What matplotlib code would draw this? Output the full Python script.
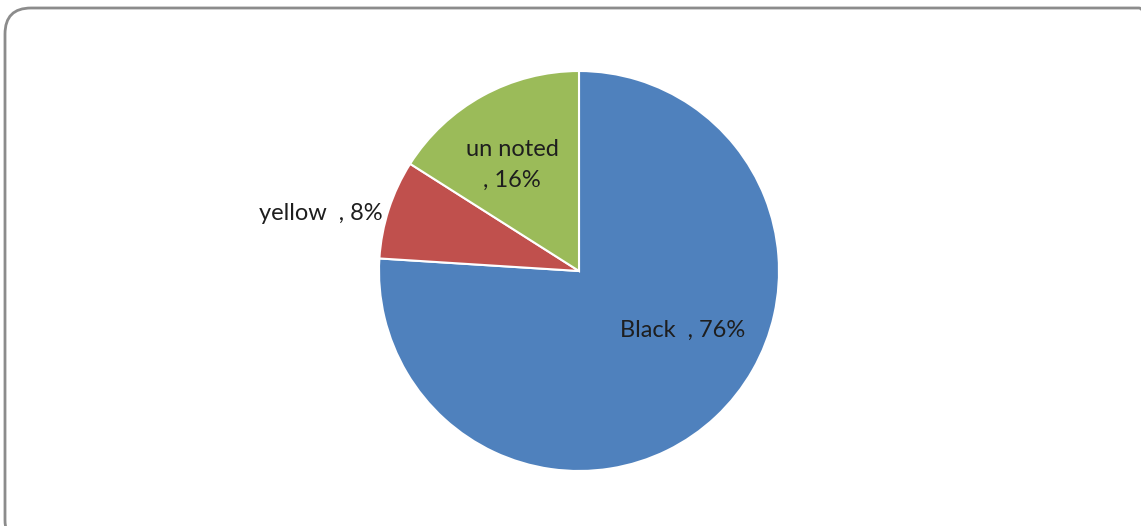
import matplotlib
matplotlib.use("Agg")
import matplotlib.pyplot as plt
from matplotlib.patches import FancyBboxPatch

categories = ["Black", "yellow", "un noted"]
shares = [76, 8, 16]
colors = ["#4F81BD", "#C0504D", "#9BBB59"]

plt.rcParams['font.family'] = ['Lato', 'DejaVu Sans']

W, H = 1141.0, 526.0
fig = plt.figure(figsize=(W / 100, H / 100), dpi=100)
fig.patch.set_facecolor("white")

# rounded chart-area border, drawn in pixel units
bg = fig.add_axes([0, 0, 1, 1])
bg.set_xlim(0, W)
bg.set_ylim(0, H)
bg.axis("off")
bg.add_patch(FancyBboxPatch((5, -20), 1160, H - 8 + 20,
                            boxstyle="round,pad=0,rounding_size=26",
                            facecolor="none", edgecolor="#8c8c8c", linewidth=2.0))

cx, cy, r = 579, 271, 200
ax = fig.add_axes([(cx - r) / W, (H - cy - r) / H, 2 * r / W, 2 * r / H])
ax.pie(shares, colors=colors, startangle=90, counterclock=False,
       wedgeprops={"edgecolor": "white", "linewidth": 1.5})
ax.set_xlim(-1, 1)
ax.set_ylim(-1, 1)
ax.set_aspect("equal")
ax.axis("off")

tcol = "#1e1e1e"
fs = 17
ax.text(0.52, -0.295, "%s  , %d%%" % (categories[0], shares[0]),
        ha="center", va="center", fontsize=fs, color=tcol)
ax.text(-0.98, 0.29, "%s  , %d%%" % (categories[1], shares[1]),
        ha="right", va="center", fontsize=fs, color=tcol)
ax.text(-0.335, 0.53, "%s\n, %d%%" % (categories[2], shares[2]),
        ha="center", va="center", fontsize=fs, color=tcol, linespacing=1.6)

fig.savefig("out.png", dpi=100)
